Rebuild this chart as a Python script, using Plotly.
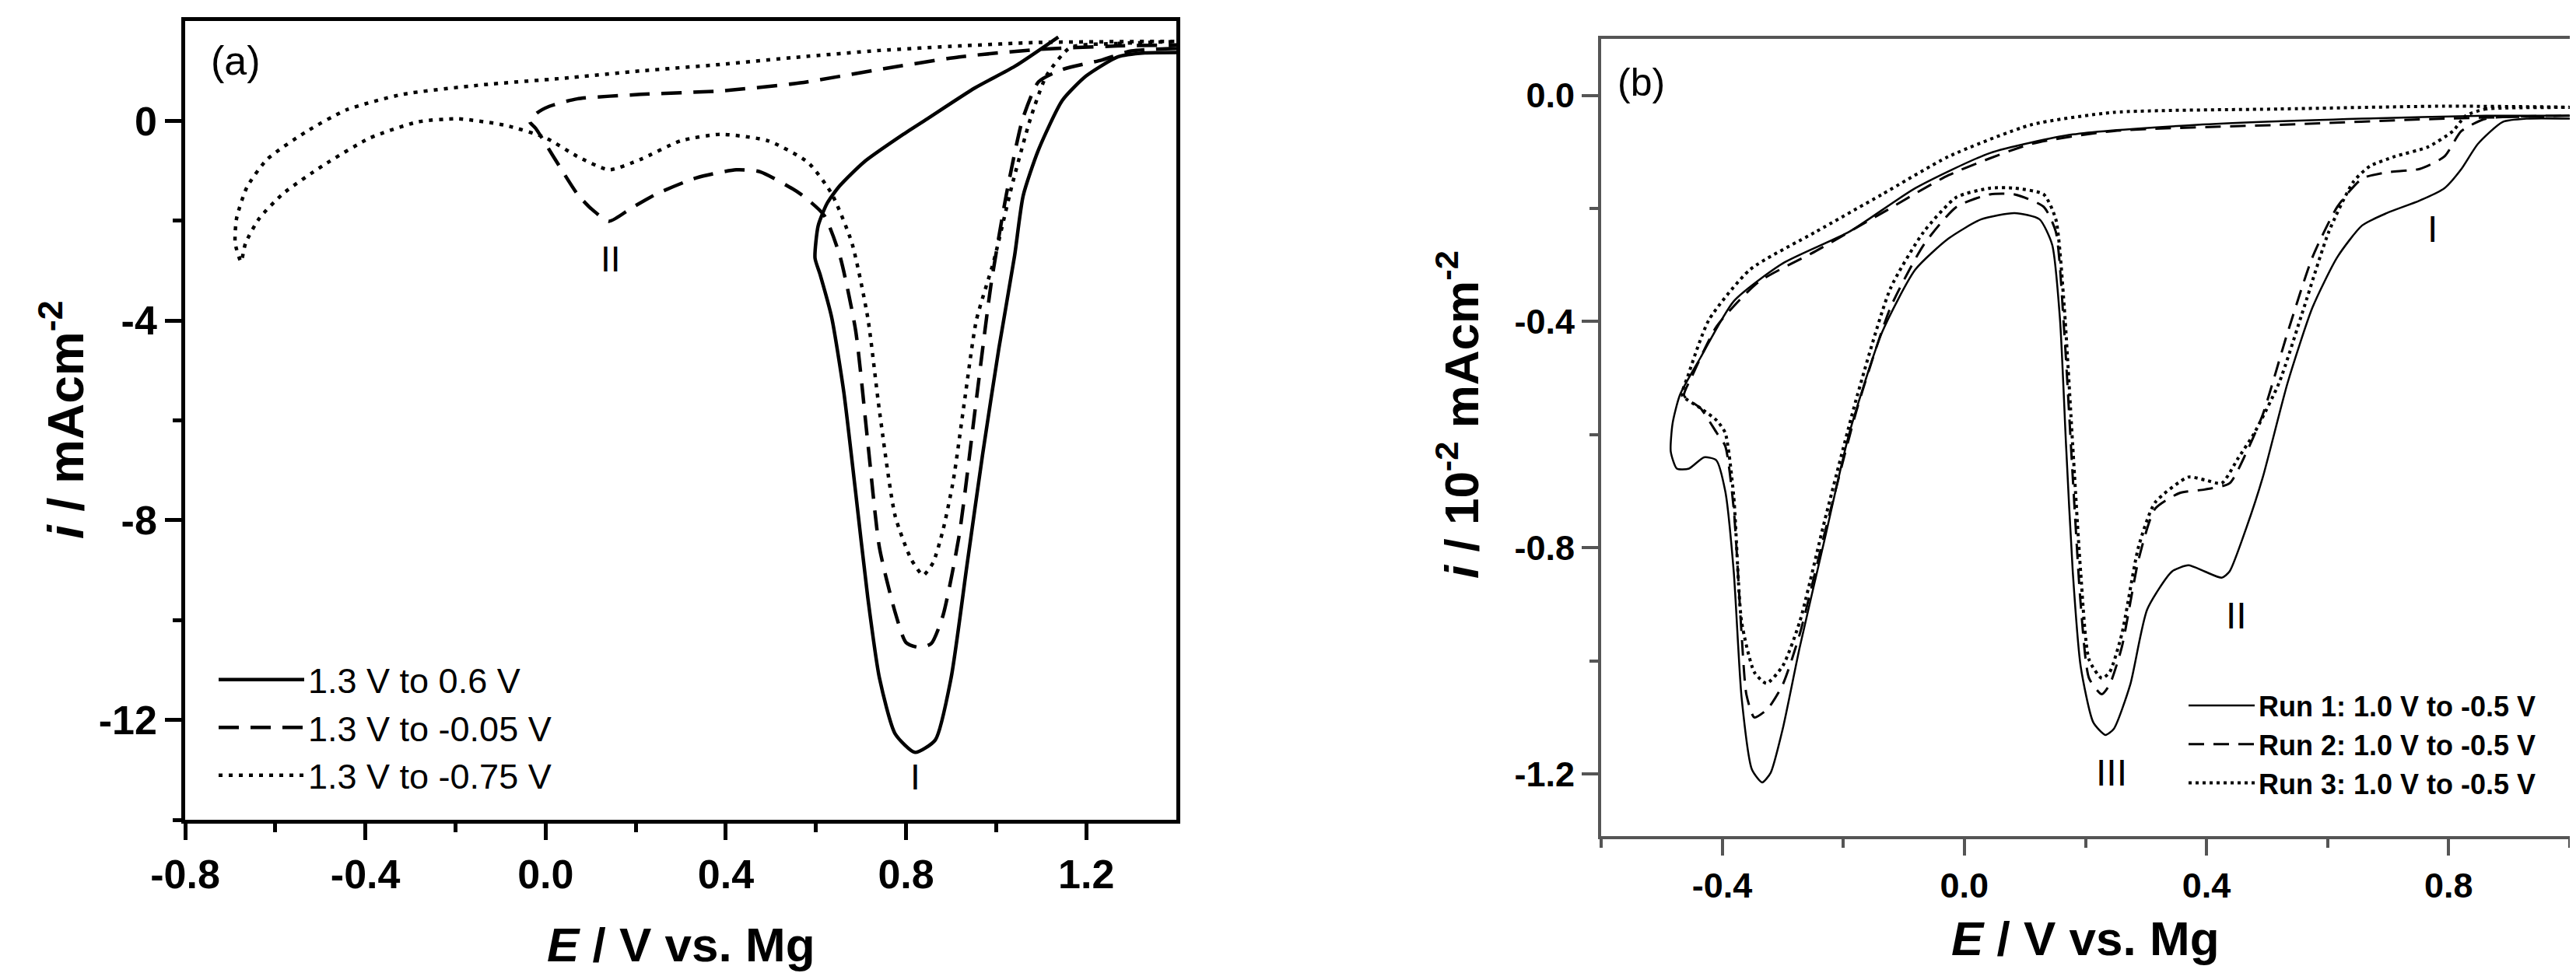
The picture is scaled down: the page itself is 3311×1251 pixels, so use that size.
import plotly.graph_objects as go

# ---- panel (a): scans from 1.3 V down to three different vertices ----
a_names = ["1.3 V to 0.6 V", "1.3 V to -0.05 V", "1.3 V to -0.75 V"]

a_solid_x = [1.40, 1.33, 1.27, 1.20, 1.147, 1.094, 1.06, 1.041, 1.006, 0.97, 0.935, 0.90,
             0.865, 0.82, 0.776, 0.741, 0.715, 0.688, 0.662, 0.635, 0.609, 0.598, 0.605,
             0.625, 0.653, 0.706, 0.794, 0.847, 0.953, 1.041, 1.138]
a_solid_y = [1.37, 1.36, 1.28, 0.90, 0.41, -0.58, -1.5, -2.7, -4.56, -6.68, -8.92, -11.16,
             -12.4, -12.65, -12.28, -11.16, -9.54, -7.43, -5.44, -3.94, -3.07, -2.75, -2.1,
             -1.65, -1.3, -0.83, -0.27, 0.04, 0.66, 1.09, 1.68]

a_dash_x = [1.40, 1.30, 1.235, 1.147, 1.094, 1.059, 1.023, 0.988, 0.953, 0.918, 0.882, 0.856,
            0.83, 0.80, 0.776, 0.741, 0.715, 0.688, 0.653, 0.618, 0.565, 0.476, 0.423, 0.335,
            0.247, 0.19, 0.141, 0.10, 0.07, 0.017, -0.022, -0.035, -0.02, 0.008, 0.07, 0.211,
            0.388, 0.565, 0.741, 0.918, 1.094, 1.27, 1.40]
a_dash_y = [1.45, 1.40, 1.22, 1.03, 0.78, 0.04, -1.46, -3.32, -5.81, -8.3, -9.91, -10.47,
            -10.55, -10.45, -9.85, -8.55, -6.43, -4.19, -2.7, -1.89, -1.46, -1.02, -0.98, -1.14,
            -1.46, -1.75, -2.01, -1.75, -1.46, -0.71, -0.15, -0.02, 0.15, 0.29, 0.44, 0.53,
            0.60, 0.76, 1.03, 1.28, 1.43, 1.50, 1.52]

a_dot_x = [1.40, 1.27, 1.165, 1.112, 1.076, 1.035, 0.995, 0.956, 0.93, 0.905, 0.882, 0.86,
           0.838, 0.812, 0.776, 0.741, 0.715, 0.68, 0.635, 0.582, 0.494, 0.388, 0.30, 0.211,
           0.141, 0.07, 0.0, -0.089, -0.194, -0.283, -0.389, -0.495, -0.583, -0.636, -0.666,
           -0.676, -0.689, -0.686, -0.663, -0.618, -0.53, -0.442, -0.318, -0.142, 0.035,
           0.211, 0.388, 0.565, 0.741, 0.918, 1.094, 1.40]
a_dot_y = [1.59, 1.55, 1.47, 0.91, 0.04, -1.3, -2.8, -4.0, -5.6, -7.2, -8.2, -8.85,
           -9.1, -8.79, -7.92, -5.81, -3.94, -2.45, -1.46, -0.83, -0.4, -0.27, -0.4, -0.77,
           -0.98, -0.71, -0.34, -0.09, 0.04, -0.02, -0.34, -0.9, -1.46, -1.96, -2.45,
           -2.82, -2.45, -1.96, -1.33, -0.77, -0.21, 0.22, 0.53, 0.72, 0.85,
           1.0, 1.13, 1.28, 1.41, 1.5, 1.57, 1.59]

# ---- panel (b): three repeated runs 1.0 V to -0.5 V ----
b_names = ["Run 1: 1.0 V to -0.5 V", "Run 2: 1.0 V to -0.5 V", "Run 3: 1.0 V to -0.5 V"]

b_run1_x = [1.0, 0.93, 0.889, 0.848, 0.821, 0.793, 0.752, 0.698, 0.657, 0.616, 0.575, 0.534,
            0.493, 0.466, 0.438, 0.425, 0.397, 0.37, 0.343, 0.302, 0.274, 0.247, 0.233, 0.213,
            0.192, 0.179, 0.168, 0.158, 0.145, 0.124, 0.083, 0.028, -0.026, -0.081, -0.136,
            -0.19, -0.231, -0.272, -0.30, -0.32, -0.334, -0.351, -0.368, -0.381, -0.395,
            -0.41, -0.43, -0.455, -0.475, -0.485, -0.482, -0.47, -0.436, -0.381, -0.30,
            -0.19, -0.081, 0.042, 0.179, 0.384, 0.657, 0.862, 1.0]
b_run1_y = [-0.041, -0.041, -0.047, -0.086, -0.13, -0.164, -0.186, -0.208, -0.23, -0.286,
            -0.375, -0.508, -0.675, -0.764, -0.842, -0.853, -0.842, -0.831, -0.842, -0.909,
            -1.042, -1.12, -1.131, -1.109, -1.009, -0.842, -0.62, -0.397, -0.264, -0.219,
            -0.208, -0.219, -0.253, -0.308, -0.419, -0.597, -0.786, -0.976, -1.12, -1.198,
            -1.215, -1.192, -1.065, -0.842, -0.70, -0.645, -0.64, -0.66, -0.66, -0.63,
            -0.58, -0.53, -0.464, -0.364, -0.297, -0.241, -0.164, -0.102, -0.069, -0.052,
            -0.041, -0.036, -0.036]

b_run2_x = [1.0, 0.862, 0.821, 0.793, 0.752, 0.698, 0.657, 0.616, 0.575, 0.534, 0.493, 0.466,
            0.438, 0.397, 0.356, 0.315, 0.288, 0.26, 0.24, 0.227, 0.206, 0.192, 0.179, 0.165,
            0.151, 0.131, 0.083, 0.042, -0.013, -0.067, -0.122, -0.177, -0.231, -0.272, -0.30,
            -0.325, -0.347, -0.36, -0.368, -0.381, -0.395, -0.409, -0.436, -0.463, -0.45,
            -0.409, -0.34, -0.245, -0.136, -0.026, 0.11, 0.247, 0.52, 0.793, 1.0]
b_run2_y = [-0.036, -0.041, -0.063, -0.108, -0.13, -0.136, -0.147, -0.197, -0.286, -0.419,
            -0.564, -0.631, -0.686, -0.697, -0.703, -0.731, -0.82, -0.976, -1.042, -1.059,
            -1.031, -0.898, -0.675, -0.419, -0.241, -0.197, -0.175, -0.175, -0.197, -0.264,
            -0.375, -0.553, -0.775, -0.953, -1.042, -1.085, -1.10, -1.06, -0.953, -0.731,
            -0.62, -0.597, -0.553, -0.531, -0.497, -0.408, -0.33, -0.275, -0.208, -0.141,
            -0.086, -0.063, -0.052, -0.041, -0.036]

b_run3_x = [1.0, 0.862, 0.828, 0.807, 0.766, 0.711, 0.67, 0.643, 0.602, 0.561, 0.52, 0.479,
            0.452, 0.425, 0.397, 0.37, 0.315, 0.288, 0.26, 0.24, 0.227, 0.206, 0.192, 0.179,
            0.165, 0.151, 0.131, 0.083, 0.042, -0.013, -0.067, -0.122, -0.177, -0.231, -0.272,
            -0.30, -0.327, -0.347, -0.368, -0.381, -0.395, -0.409, -0.436, -0.466, -0.457,
            -0.422, -0.354, -0.245, -0.136, -0.026, 0.11, 0.247, 0.52, 0.793, 1.0]
b_run3_y = [-0.021, -0.024, -0.036, -0.063, -0.091, -0.108, -0.125, -0.152, -0.241, -0.375,
            -0.508, -0.597, -0.642, -0.686, -0.68, -0.675, -0.72, -0.797, -0.953, -1.02,
            -1.031, -0.998, -0.842, -0.62, -0.375, -0.219, -0.175, -0.164, -0.164, -0.18,
            -0.241, -0.341, -0.531, -0.753, -0.931, -1.009, -1.04, -1.02, -0.931, -0.709,
            -0.597, -0.575, -0.553, -0.53, -0.497, -0.397, -0.308, -0.241, -0.175, -0.108,
            -0.052, -0.03, -0.024, -0.019, -0.021]

# peak labels
a_peaks = ["I", "II"]
a_peak_x = [0.82, 0.144]
a_peak_y = [-13.15, -2.76]
b_peaks = ["I", "II", "III"]
b_peak_x = [0.773, 0.449, 0.243]
b_peak_y = [-0.236, -0.92, -1.198]

# tick values
a_xticks = [-0.8, -0.4, 0.0, 0.4, 0.8, 1.2]
a_yticks = [0, -4, -8, -12]
b_xticks = [-0.4, 0.0, 0.4, 0.8]
b_yticks = [0.0, -0.4, -0.8, -1.2]

FONT = "Liberation Sans, Arial, sans-serif"
W, H = 3311, 1251

fig = go.Figure()

a_curves = [(a_solid_x, a_solid_y, "solid"), (a_dash_x, a_dash_y, "26px,15px"),
            (a_dot_x, a_dot_y, "5px,8px")]
for (x, y, dash), name in zip(a_curves, a_names):
    fig.add_trace(go.Scatter(x=x, y=y, name=name, mode="lines", xaxis="x", yaxis="y",
                             legend="legend",
                             line=dict(color="black", width=4.5, dash=dash,
                                       shape="spline", smoothing=0.6)))

b_curves = [(b_run1_x, b_run1_y, "solid", 2.5), (b_run2_x, b_run2_y, "20px,12px", 3),
            (b_run3_x, b_run3_y, "4px,5px", 4)]
for (x, y, dash, lw), name in zip(b_curves, b_names):
    fig.add_trace(go.Scatter(x=x, y=y, name=name, mode="lines", xaxis="x2", yaxis="y2",
                             legend="legend2",
                             line=dict(color="black", width=lw, dash=dash,
                                       shape="spline", smoothing=0.6)))


def axis(domain, rng, ticks, text, minor_vals, anchor, color, lw, size):
    return dict(domain=domain, range=rng, anchor=anchor, automargin=False,
                tickmode="array", tickvals=ticks, ticktext=text,
                showline=True, linecolor=color, linewidth=lw, mirror=True,
                ticks="outside", ticklen=21, tickwidth=lw, tickcolor=color,
                minor=dict(tickmode="array", tickvals=minor_vals, ticks="outside",
                           ticklen=11, tickwidth=lw, tickcolor=color, showgrid=False),
                showgrid=False, zeroline=False,
                tickfont=dict(family=FONT, size=size, color="black", weight="bold"))


a_xminor = [round(-0.6 + 0.4 * i, 1) for i in range(5)]
a_yminor = [-2, -6, -10, -14]
b_xminor = [-0.6, -0.2, 0.2, 0.6, 1.0]
b_yminor = [-0.2, -0.6, -1.0]

fig.update_layout(
    width=W, height=H,
    margin=dict(l=0, r=0, t=0, b=0, autoexpand=False),
    paper_bgcolor="white", plot_bgcolor="white",
    xaxis=axis([230 / W, 1504 / W], [-0.8, 1.4], a_xticks, [f"{v:.1f}" for v in a_xticks],
               a_xminor, "y", "black", 4.5, 52),
    yaxis=axis([1 - 1046 / H, 1 - 19 / H], [-14, 2], a_yticks, [str(v) for v in a_yticks],
               a_yminor, "x", "black", 4.5, 52),
    xaxis2=axis([2050 / W, 3295 / W], [-0.6, 1.0], b_xticks, [f"{v:.1f}" for v in b_xticks],
                b_xminor, "y2", "#555555", 4, 45),
    yaxis2=axis([1 - 1067 / H, 1 - 42 / H], [-1.31, 0.1], b_yticks,
                [f"{v:.1f}" for v in b_yticks], b_yminor, "x2", "#555555", 4, 45),
    legend=dict(x=268 / W, y=1 - 830 / H, xanchor="left", yanchor="top",
                bgcolor="rgba(0,0,0,0)", tracegroupgap=0, itemwidth=110,
                font=dict(family=FONT, size=45, color="black")),
    legend2=dict(x=2800 / W, y=1 - 869 / H, xanchor="left", yanchor="top",
                 bgcolor="rgba(0,0,0,0)", tracegroupgap=0, itemwidth=85,
                 font=dict(family=FONT, size=36, color="black", weight="bold")),
)

ann = []
for t, x, y in zip(a_peaks, a_peak_x, a_peak_y):
    ann.append(dict(text=t, x=x, y=y, xref="x", yref="y", showarrow=False,
                    xanchor="center", yanchor="middle",
                    font=dict(family=FONT, size=46, color="black")))
for t, x, y in zip(b_peaks, b_peak_x, b_peak_y):
    ann.append(dict(text=t, x=x, y=y, xref="x2", yref="y2", showarrow=False,
                    xanchor="center", yanchor="middle",
                    font=dict(family=FONT, size=48, color="black")))

# panel tags and axis titles, placed on their measured positions
title_font = dict(family=FONT, size=62, color="black", weight="bold")
labels = [
    ("(a)", 295, 70, 0, dict(family=FONT, size=52, color="black")),
    ("(b)", 2101, 98, 0, dict(family=FONT, size=50, color="black")),
    ("<i>E</i> / V vs. Mg", 867, 1206, 0, title_font),
    ("<i>E</i> / V vs. Mg", 2672, 1198, 0, title_font),
    ("<i>i</i> / mAcm<sup>-2</sup>", 72, 532, -90, dict(title_font, size=64)),
    ("<i>i</i> / 10<sup>-2</sup> mAcm<sup>-2</sup>", 1866, 525, -90, title_font),
]
for text, px, py, angle, font in labels:
    ann.append(dict(text=text, x=px / W, y=1 - py / H, xref="paper", yref="paper",
                    xanchor="center", yanchor="middle", showarrow=False,
                    textangle=angle, font=font))
fig.update_layout(annotations=ann)

fig.write_html("out.html")
